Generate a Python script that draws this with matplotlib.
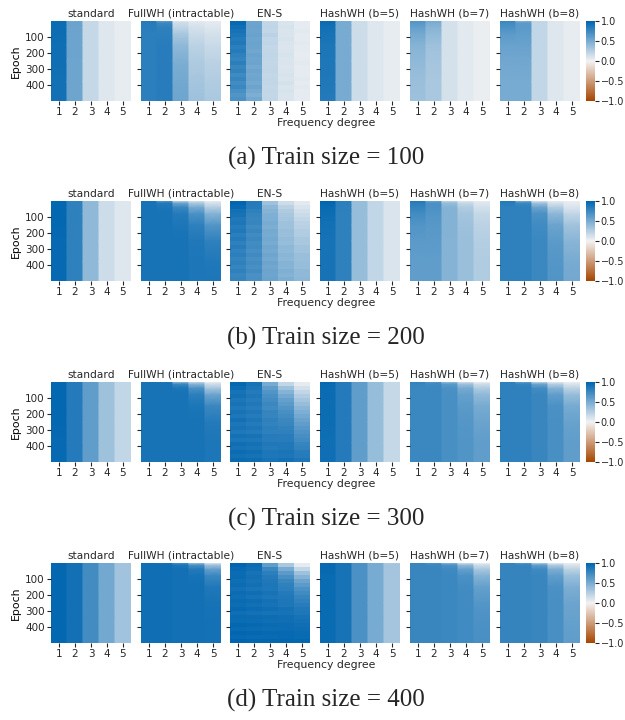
import numpy as np
import matplotlib
matplotlib.use("Agg")
import matplotlib.pyplot as plt
import seaborn as sns

plt.rcParams["font.family"] = ["DejaVu Sans"]
plt.rcParams["text.color"] = "#262626"
plt.rcParams["xtick.color"] = "#262626"
plt.rcParams["ytick.color"] = "#262626"

METHODS = ["standard", "FullWH (intractable)", "EN-S", "HashWH (b=5)", "HashWH (b=7)", "HashWH (b=8)"]
TRAIN_SIZES = [100, 200, 300, 400]
PANEL_TAGS = ["(a)", "(b)", "(c)", "(d)"]
DEGREES = [1, 2, 3, 4, 5]
EPOCH_TICKS = [100, 200, 300, 400]

# Checkpoint epochs for the smoothly evolving methods
EPOCHS = [0, 5, 15, 40, 80, 150, 250, 380, 500]
# Epoch bins (25 epochs each) for the noisier EN-S runs
ENS_EDGES = list(range(0, 501, 25))

# ---- Train size 100: one list per frequency degree ----
size100 = {
    "standard": [
        [0.90, 0.95, 0.95, 0.94, 0.94, 0.93, 0.93, 0.92, 0.92],
        [0.30, 0.55, 0.56, 0.55, 0.55, 0.55, 0.54, 0.54, 0.54],
        [0.10, 0.18, 0.18, 0.18, 0.18, 0.18, 0.18, 0.18, 0.18],
        [0.05, 0.08, 0.08, 0.08, 0.08, 0.08, 0.08, 0.08, 0.08],
        [0.03, 0.04, 0.04, 0.04, 0.04, 0.04, 0.04, 0.04, 0.04],
    ],
    "FullWH (intractable)": [
        [0.85, 0.85, 0.84, 0.83, 0.82, 0.82, 0.82, 0.82, 0.82],
        [0.40, 0.65, 0.75, 0.80, 0.82, 0.83, 0.83, 0.83, 0.83],
        [0.05, 0.10, 0.15, 0.20, 0.30, 0.40, 0.48, 0.52, 0.54],
        [0.03, 0.06, 0.08, 0.12, 0.16, 0.22, 0.28, 0.32, 0.35],
        [0.02, 0.04, 0.06, 0.08, 0.12, 0.17, 0.22, 0.27, 0.30],
    ],
    "HashWH (b=5)": [
        [0.95, 0.95, 0.94, 0.92, 0.90, 0.88, 0.87, 0.86, 0.85],
        [0.45, 0.50, 0.50, 0.50, 0.50, 0.50, 0.50, 0.50, 0.50],
        [0.12, 0.15, 0.15, 0.15, 0.15, 0.15, 0.15, 0.15, 0.15],
        [0.06, 0.08, 0.08, 0.08, 0.08, 0.08, 0.08, 0.08, 0.08],
        [0.03, 0.04, 0.04, 0.04, 0.04, 0.04, 0.04, 0.04, 0.04],
    ],
    "HashWH (b=7)": [
        [0.65, 0.65, 0.63, 0.58, 0.52, 0.45, 0.40, 0.36, 0.35],
        [0.45, 0.50, 0.48, 0.44, 0.40, 0.35, 0.32, 0.30, 0.30],
        [0.10, 0.12, 0.12, 0.12, 0.12, 0.12, 0.12, 0.12, 0.12],
        [0.05, 0.06, 0.06, 0.06, 0.06, 0.06, 0.06, 0.06, 0.06],
        [0.02, 0.03, 0.03, 0.03, 0.03, 0.03, 0.03, 0.03, 0.03],
    ],
    "HashWH (b=8)": [
        [0.75, 0.75, 0.72, 0.68, 0.62, 0.57, 0.53, 0.50, 0.50],
        [0.15, 0.50, 0.62, 0.62, 0.60, 0.57, 0.53, 0.50, 0.50],
        [0.10, 0.20, 0.20, 0.20, 0.20, 0.20, 0.20, 0.20, 0.20],
        [0.05, 0.08, 0.08, 0.08, 0.08, 0.08, 0.08, 0.08, 0.08],
        [0.03, 0.04, 0.04, 0.04, 0.04, 0.04, 0.04, 0.04, 0.04],
    ],
}
ens100 = [
    [0.97, 0.93, 0.90, 0.88, 0.85, 0.86, 0.82, 0.84, 0.80, 0.78, 0.82, 0.76, 0.79, 0.74, 0.77, 0.72, 0.75, 0.70, 0.66, 0.68],
    [0.55, 0.56, 0.55, 0.57, 0.54, 0.56, 0.55, 0.53, 0.56, 0.54, 0.55, 0.52, 0.55, 0.53, 0.54, 0.52, 0.55, 0.51, 0.48, 0.52],
    [0.20, 0.21, 0.20, 0.22, 0.20, 0.21, 0.19, 0.20, 0.21, 0.20, 0.19, 0.20, 0.21, 0.19, 0.20, 0.20, 0.18, 0.20, 0.19, 0.20],
    [0.10, 0.11, 0.10, 0.10, 0.11, 0.10, 0.09, 0.10, 0.11, 0.10, 0.10, 0.09, 0.10, 0.11, 0.10, 0.12, 0.10, 0.11, 0.10, 0.10],
    [0.05, 0.05, 0.06, 0.05, 0.05, 0.06, 0.05, 0.05, 0.04, 0.05, 0.06, 0.05, 0.05, 0.05, 0.06, 0.05, 0.06, 0.05, 0.05, 0.05],
]

# ---- Train size 200 ----
size200 = {
    "standard": [
        [0.98, 0.98, 0.98, 0.98, 0.98, 0.98, 0.97, 0.97, 0.97],
        [0.70, 0.80, 0.80, 0.80, 0.80, 0.80, 0.80, 0.80, 0.80],
        [0.30, 0.40, 0.40, 0.40, 0.40, 0.40, 0.40, 0.40, 0.40],
        [0.10, 0.15, 0.15, 0.15, 0.15, 0.15, 0.15, 0.15, 0.15],
        [0.05, 0.08, 0.08, 0.08, 0.08, 0.08, 0.08, 0.08, 0.08],
    ],
    "FullWH (intractable)": [
        [0.85, 0.90, 0.90, 0.90, 0.90, 0.90, 0.90, 0.90, 0.90],
        [0.45, 0.70, 0.85, 0.88, 0.90, 0.90, 0.90, 0.90, 0.90],
        [0.15, 0.30, 0.55, 0.75, 0.85, 0.88, 0.90, 0.90, 0.90],
        [0.08, 0.15, 0.30, 0.50, 0.68, 0.80, 0.86, 0.88, 0.88],
        [0.04, 0.06, 0.12, 0.25, 0.45, 0.65, 0.80, 0.86, 0.88],
    ],
    "HashWH (b=5)": [
        [1.00, 1.00, 0.98, 0.96, 0.94, 0.92, 0.90, 0.90, 0.90],
        [0.75, 0.82, 0.82, 0.81, 0.80, 0.80, 0.80, 0.80, 0.80],
        [0.30, 0.38, 0.38, 0.38, 0.38, 0.38, 0.38, 0.38, 0.38],
        [0.15, 0.20, 0.20, 0.20, 0.20, 0.20, 0.20, 0.20, 0.20],
        [0.07, 0.10, 0.10, 0.10, 0.10, 0.10, 0.10, 0.10, 0.10],
    ],
    "HashWH (b=7)": [
        [0.85, 0.85, 0.82, 0.78, 0.72, 0.66, 0.62, 0.60, 0.60],
        [0.35, 0.60, 0.68, 0.68, 0.66, 0.64, 0.62, 0.60, 0.60],
        [0.10, 0.25, 0.38, 0.45, 0.46, 0.46, 0.45, 0.45, 0.45],
        [0.05, 0.10, 0.18, 0.27, 0.32, 0.35, 0.36, 0.36, 0.36],
        [0.03, 0.05, 0.08, 0.13, 0.18, 0.22, 0.25, 0.27, 0.27],
    ],
    "HashWH (b=8)": [
        [0.85, 0.85, 0.83, 0.80, 0.80, 0.80, 0.80, 0.80, 0.80],
        [0.30, 0.55, 0.75, 0.80, 0.80, 0.80, 0.80, 0.80, 0.80],
        [0.08, 0.15, 0.35, 0.55, 0.68, 0.73, 0.75, 0.75, 0.75],
        [0.04, 0.06, 0.12, 0.25, 0.42, 0.55, 0.62, 0.65, 0.66],
        [0.02, 0.03, 0.05, 0.10, 0.20, 0.33, 0.43, 0.50, 0.52],
    ],
}
ens200 = [
    [1.00, 0.97, 0.92, 0.90, 0.86, 0.88, 0.84, 0.86, 0.82, 0.85, 0.80, 0.83, 0.79, 0.82, 0.78, 0.80, 0.77, 0.80, 0.76, 0.78],
    [0.85, 0.84, 0.80, 0.78, 0.76, 0.77, 0.74, 0.76, 0.73, 0.75, 0.72, 0.74, 0.71, 0.74, 0.70, 0.72, 0.70, 0.73, 0.69, 0.70],
    [0.35, 0.42, 0.45, 0.47, 0.48, 0.50, 0.49, 0.51, 0.50, 0.52, 0.50, 0.53, 0.51, 0.54, 0.52, 0.55, 0.53, 0.55, 0.54, 0.56],
    [0.15, 0.22, 0.28, 0.30, 0.32, 0.34, 0.35, 0.37, 0.36, 0.39, 0.38, 0.41, 0.40, 0.43, 0.42, 0.45, 0.44, 0.47, 0.46, 0.48],
    [0.06, 0.10, 0.14, 0.17, 0.20, 0.22, 0.24, 0.26, 0.27, 0.30, 0.30, 0.33, 0.33, 0.36, 0.36, 0.38, 0.38, 0.40, 0.40, 0.42],
]

# ---- Train size 300 ----
size300 = {
    "standard": [
        [0.98, 0.98, 0.98, 0.98, 0.98, 0.98, 0.98, 0.97, 0.97],
        [0.75, 0.85, 0.85, 0.85, 0.85, 0.85, 0.85, 0.85, 0.85],
        [0.45, 0.60, 0.60, 0.60, 0.60, 0.60, 0.60, 0.60, 0.60],
        [0.25, 0.35, 0.35, 0.35, 0.35, 0.35, 0.35, 0.35, 0.35],
        [0.12, 0.20, 0.20, 0.20, 0.20, 0.20, 0.20, 0.20, 0.20],
    ],
    "FullWH (intractable)": [
        [0.90, 0.90, 0.90, 0.90, 0.90, 0.90, 0.90, 0.90, 0.90],
        [0.75, 0.88, 0.90, 0.90, 0.90, 0.90, 0.90, 0.90, 0.90],
        [0.30, 0.50, 0.75, 0.88, 0.90, 0.90, 0.90, 0.90, 0.90],
        [0.15, 0.25, 0.45, 0.68, 0.82, 0.88, 0.90, 0.90, 0.90],
        [0.03, 0.06, 0.15, 0.32, 0.55, 0.75, 0.85, 0.88, 0.88],
    ],
    "HashWH (b=5)": [
        [0.97, 0.97, 0.96, 0.95, 0.95, 0.94, 0.94, 0.93, 0.93],
        [0.80, 0.85, 0.85, 0.85, 0.85, 0.85, 0.85, 0.85, 0.85],
        [0.50, 0.60, 0.60, 0.60, 0.60, 0.60, 0.60, 0.60, 0.60],
        [0.30, 0.38, 0.38, 0.38, 0.38, 0.38, 0.38, 0.38, 0.38],
        [0.12, 0.18, 0.18, 0.18, 0.18, 0.18, 0.18, 0.18, 0.18],
    ],
    "HashWH (b=7)": [
        [0.80, 0.78, 0.76, 0.75, 0.75, 0.75, 0.75, 0.75, 0.75],
        [0.50, 0.68, 0.74, 0.75, 0.75, 0.75, 0.75, 0.75, 0.75],
        [0.20, 0.45, 0.62, 0.68, 0.70, 0.70, 0.70, 0.70, 0.70],
        [0.08, 0.18, 0.35, 0.50, 0.58, 0.62, 0.65, 0.66, 0.66],
        [0.02, 0.05, 0.15, 0.28, 0.40, 0.50, 0.56, 0.60, 0.60],
    ],
    "HashWH (b=8)": [
        [0.82, 0.80, 0.80, 0.80, 0.80, 0.80, 0.80, 0.80, 0.80],
        [0.35, 0.65, 0.78, 0.80, 0.80, 0.80, 0.80, 0.80, 0.80],
        [0.10, 0.30, 0.55, 0.72, 0.76, 0.76, 0.76, 0.76, 0.76],
        [0.04, 0.10, 0.25, 0.45, 0.60, 0.68, 0.70, 0.70, 0.70],
        [0.02, 0.04, 0.10, 0.22, 0.38, 0.50, 0.57, 0.60, 0.60],
    ],
}
ens300 = [
    [0.98, 0.95, 0.90, 0.92, 0.88, 0.90, 0.86, 0.90, 0.87, 0.92, 0.88, 0.90, 0.86, 0.91, 0.88, 0.93, 0.90, 0.95, 0.92, 0.96],
    [0.90, 0.88, 0.85, 0.87, 0.84, 0.86, 0.83, 0.87, 0.84, 0.88, 0.85, 0.88, 0.85, 0.90, 0.87, 0.91, 0.89, 0.93, 0.90, 0.94],
    [0.50, 0.60, 0.66, 0.70, 0.72, 0.75, 0.74, 0.78, 0.77, 0.80, 0.79, 0.82, 0.80, 0.84, 0.83, 0.86, 0.85, 0.88, 0.87, 0.90],
    [0.20, 0.35, 0.45, 0.52, 0.58, 0.62, 0.66, 0.70, 0.72, 0.75, 0.76, 0.79, 0.80, 0.83, 0.83, 0.86, 0.86, 0.89, 0.88, 0.92],
    [0.05, 0.12, 0.20, 0.26, 0.32, 0.38, 0.43, 0.48, 0.52, 0.57, 0.60, 0.64, 0.67, 0.71, 0.73, 0.77, 0.79, 0.83, 0.84, 0.88],
]

# ---- Train size 400 ----
size400 = {
    "standard": [
        [0.98, 0.98, 0.98, 0.98, 0.98, 0.98, 0.98, 0.98, 0.98],
        [0.85, 0.92, 0.92, 0.92, 0.92, 0.92, 0.92, 0.92, 0.92],
        [0.60, 0.72, 0.72, 0.72, 0.72, 0.72, 0.72, 0.72, 0.72],
        [0.40, 0.52, 0.52, 0.52, 0.52, 0.52, 0.52, 0.52, 0.52],
        [0.20, 0.33, 0.33, 0.33, 0.33, 0.33, 0.33, 0.33, 0.33],
    ],
    "FullWH (intractable)": [
        [0.93, 0.93, 0.93, 0.93, 0.93, 0.93, 0.93, 0.93, 0.93],
        [0.80, 0.90, 0.93, 0.93, 0.93, 0.93, 0.93, 0.93, 0.93],
        [0.55, 0.75, 0.88, 0.92, 0.92, 0.92, 0.92, 0.92, 0.92],
        [0.25, 0.45, 0.70, 0.85, 0.90, 0.92, 0.92, 0.92, 0.92],
        [0.06, 0.15, 0.35, 0.58, 0.75, 0.86, 0.90, 0.91, 0.91],
    ],
    "HashWH (b=5)": [
        [0.97, 0.97, 0.97, 0.97, 0.96, 0.96, 0.96, 0.96, 0.96],
        [0.85, 0.90, 0.90, 0.90, 0.90, 0.90, 0.90, 0.90, 0.90],
        [0.60, 0.68, 0.68, 0.68, 0.68, 0.68, 0.68, 0.68, 0.68],
        [0.40, 0.50, 0.50, 0.50, 0.50, 0.50, 0.50, 0.50, 0.50],
        [0.20, 0.30, 0.32, 0.32, 0.32, 0.32, 0.32, 0.32, 0.32],
    ],
    "HashWH (b=7)": [
        [0.78, 0.76, 0.76, 0.76, 0.76, 0.76, 0.76, 0.76, 0.76],
        [0.55, 0.70, 0.75, 0.76, 0.76, 0.76, 0.76, 0.76, 0.76],
        [0.25, 0.50, 0.68, 0.74, 0.75, 0.75, 0.75, 0.75, 0.75],
        [0.08, 0.20, 0.40, 0.58, 0.68, 0.72, 0.73, 0.73, 0.73],
        [0.02, 0.05, 0.15, 0.30, 0.45, 0.58, 0.65, 0.68, 0.70],
    ],
    "HashWH (b=8)": [
        [0.80, 0.78, 0.78, 0.78, 0.78, 0.78, 0.78, 0.78, 0.78],
        [0.40, 0.68, 0.78, 0.78, 0.78, 0.78, 0.78, 0.78, 0.78],
        [0.12, 0.35, 0.60, 0.74, 0.76, 0.76, 0.76, 0.76, 0.76],
        [0.04, 0.10, 0.28, 0.48, 0.60, 0.68, 0.70, 0.70, 0.70],
        [0.02, 0.04, 0.10, 0.22, 0.36, 0.48, 0.55, 0.58, 0.60],
    ],
}
ens400 = [
    [1.00, 0.97, 0.95, 0.96, 0.93, 0.95, 0.92, 0.95, 0.93, 0.96, 0.94, 0.97, 0.93, 0.96, 0.95, 0.98, 0.96, 0.99, 0.97, 1.00],
    [0.95, 0.93, 0.90, 0.92, 0.90, 0.92, 0.89, 0.93, 0.90, 0.94, 0.92, 0.95, 0.91, 0.95, 0.94, 0.97, 0.95, 0.98, 0.96, 0.99],
    [0.60, 0.75, 0.82, 0.85, 0.86, 0.88, 0.87, 0.90, 0.88, 0.91, 0.90, 0.93, 0.90, 0.94, 0.93, 0.96, 0.94, 0.97, 0.96, 0.99],
    [0.30, 0.50, 0.62, 0.70, 0.76, 0.80, 0.82, 0.85, 0.86, 0.88, 0.88, 0.91, 0.90, 0.93, 0.93, 0.95, 0.95, 0.97, 0.97, 0.99],
    [0.05, 0.20, 0.35, 0.45, 0.55, 0.62, 0.68, 0.73, 0.77, 0.80, 0.83, 0.86, 0.87, 0.90, 0.91, 0.93, 0.94, 0.96, 0.96, 0.98],
]

SMOOTH = [size100, size200, size300, size400]
ENS = [ens100, ens200, ens300, ens400]

cmap = sns.diverging_palette(25, 250, s=100, l=42, as_cmap=True)
NORM = dict(cmap=cmap, vmin=-1, vmax=1)

W, H = 625, 720
fig = plt.figure(figsize=(W / 100, H / 100), dpi=100)

PANEL_X = [51, 141, 230, 320, 410, 500]
PANEL_W = 80
ROW_TOP = [21, 201, 382, 563]
PANEL_H = 80
CBAR_X, CBAR_W = 586, 9

TICK_FS = 7.5
TITLE_FS = 7.7
LABEL_FS = 7.8


def frac_box(x, top, w, h):
    return [x / W, 1 - (top + h) / H, w / W, h / H]


def draw_smooth(ax, columns):
    ep = np.array(EPOCHS, dtype=float)
    for j, col in enumerate(columns):
        xs = np.array([DEGREES[j] - 0.5, DEGREES[j] + 0.5])
        X, Y = np.meshgrid(xs, ep)
        C = np.repeat(np.array(col)[:, None], 2, axis=1)
        ax.pcolormesh(X, Y, C, shading="gouraud", **NORM)


def draw_binned(ax, columns):
    xedges = np.arange(0.5, 5.6, 1.0)
    C = np.array(columns).T
    ax.pcolormesh(xedges, np.array(ENS_EDGES), C, shading="flat", **NORM)


for r, size in enumerate(TRAIN_SIZES):
    top = ROW_TOP[r]
    for k, method in enumerate(METHODS):
        ax = fig.add_axes(frac_box(PANEL_X[k], top, PANEL_W, PANEL_H))
        if method == "EN-S":
            draw_binned(ax, ENS[r])
        else:
            draw_smooth(ax, SMOOTH[r][method])
        ax.set_xlim(0.5, 5.5)
        ax.set_ylim(500, 0)
        ax.set_xticks(DEGREES)
        ax.set_xticklabels([str(d) for d in DEGREES], fontsize=TICK_FS)
        ax.set_yticks(EPOCH_TICKS)
        if k == 0:
            ax.set_yticklabels([str(e) for e in EPOCH_TICKS], fontsize=TICK_FS)
            ax.set_ylabel("Epoch", fontsize=LABEL_FS, labelpad=3)
        else:
            ax.set_yticklabels([])
        ax.tick_params(length=3, width=0.8, pad=1.5)
        for s in ax.spines.values():
            s.set_visible(False)
        ax.set_title(method, fontsize=TITLE_FS, pad=3)

    cax = fig.add_axes(frac_box(CBAR_X, top, CBAR_W, PANEL_H))
    sm = matplotlib.cm.ScalarMappable(cmap=cmap, norm=matplotlib.colors.Normalize(-1, 1))
    cb = fig.colorbar(sm, cax=cax, ticks=[-1.0, -0.5, 0.0, 0.5, 1.0])
    cb.outline.set_visible(False)
    cb.ax.set_yticklabels(["\u22121.0", "\u22120.5", "0.0", "0.5", "1.0"], fontsize=7.0)
    cb.ax.tick_params(length=3, width=0.8, pad=1)

    fig.text(326 / W, 1 - (top + 102) / H, "Frequency degree", ha="center", va="center", fontsize=LABEL_FS)
    fig.text(326 / W, 1 - (top + 137) / H, f"{PANEL_TAGS[r]} Train size = {size}",
             ha="center", va="center", fontsize=18, family="Liberation Serif")

fig.savefig("out.png", dpi=100)
